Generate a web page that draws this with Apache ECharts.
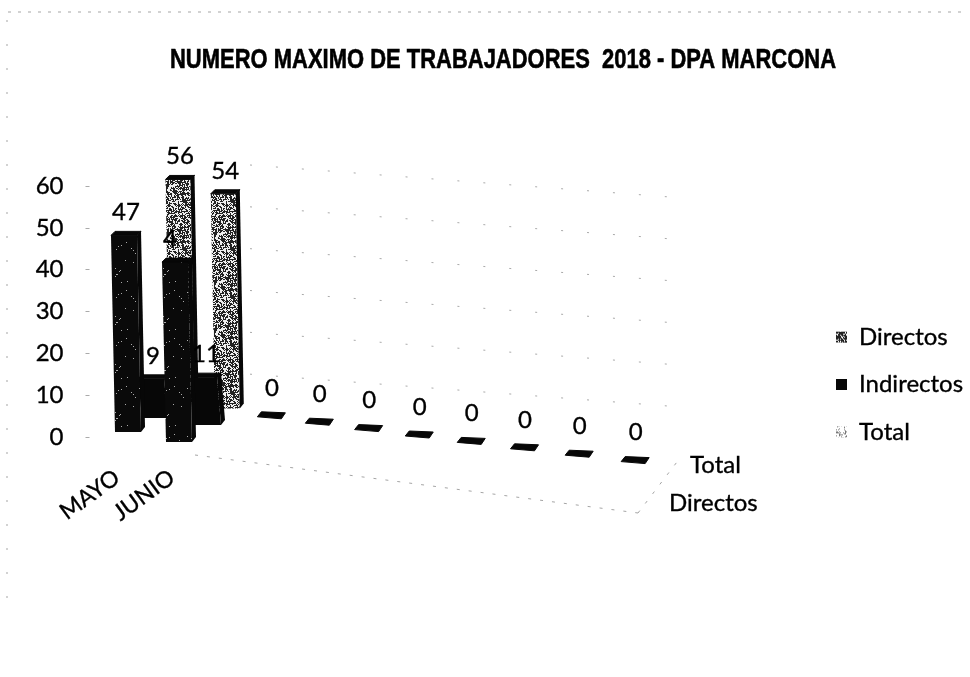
<!DOCTYPE html>
<html>
<head>
<meta charset="utf-8">
<style>html,body{margin:0;padding:0;background:#fff}#c{width:970px;height:677px}</style>
<script src="https://cdn.jsdelivr.net/npm/echarts@6/dist/echarts.min.js"></script>
</head>
<body>
<div id="c"></div>
<script>
var titleText = 'NUMERO MAXIMO DE TRABAJADORES  2018 - DPA MARCONA';
var categories = ['MAYO', 'JUNIO', '', '', '', '', '', '', '', ''];
var directos = [47, 43];
var indirectos = [9, 11];
var total = [56, 54, 0, 0, 0, 0, 0, 0, 0, 0];
var yTicks = [10, 20, 30, 40, 50, 60];
var depthLabels = ['Total', 'Directos'];

// fixed stipple textures (integer hash, no randomness)
function stipple(size, lightShare, dark, light) {
  var cv = document.createElement('canvas');
  cv.width = cv.height = size;
  var g = cv.getContext('2d');
  g.fillStyle = dark; g.fillRect(0, 0, size, size);
  g.fillStyle = light;
  var s = 12345;
  for (var y = 0; y < size; y++) for (var x = 0; x < size; x++) {
    s = (s * 1103515245 + 12345) & 0x7fffffff;
    if (((s >> 16) % 100) < lightShare) g.fillRect(x, y, 1, 1);
  }
  return { image: cv, repeat: 'repeat' };
}
var patTotal = stipple(48, 45, '#222222', '#eeeeee');
var patDirectos = stipple(48, 1, '#0a0a0a', '#aaaaaa');
var patLegDir = stipple(24, 25, '#222222', '#ffffff');
var patLegTot = stipple(24, 70, '#777777', '#ffffff');
var BLACK = '#070707';

// depth placement of each row of the 3D floor, relative to the axis position
var rows = {
  directos: { dx: function (c) { return 11 - 4 * c; }, dy: function (c) { return -5 + 10 * c; }, k: 1.0, w: 26 },
  indirectos: { dx: function (c) { return 38 - 2 * c; }, dy: function (c) { return -19 + 7 * c; }, k: 1.04, w: 26 },
  total: { dx: function (c) { return 65 - 10.4 * c + 0.67 * c * c; }, dy: function (c) { return -35 + 6.4 * c; }, k: 0.95, w: 25 }
};
var FONT = 'Lato';
var LABEL_FONT = '24px ' + FONT;
var TEXT_EDGE = 0.35;

function barRenderer(row, fill, clipLabels) {
  return function (params, api) {
    var c = api.value(0), v = api.value(1);
    var p0 = api.coord([c, 0]), pv = api.coord([c, v]);
    var h = (p0[1] - pv[1]) * row.k;
    var bx = p0[0] + row.dx(c), by = p0[1] + row.dy(c);
    var tx = bx - 4, ty = by - h;
    var w = row.w / 2, d = 4;
    var children = [];
    if (h > 0) {
      children.push(
        { type: 'polygon', shape: { points: [[bx - w, by], [bx + w, by], [tx + w, ty], [tx - w, ty]] }, style: { fill: fill } },
        { type: 'polygon', shape: { points: [[bx + w, by], [bx + w + d, by - 5], [tx + w + d, ty - 5], [tx + w, ty]] }, style: { fill: BLACK } },
        { type: 'polygon', shape: { points: [[tx - w, ty], [tx - w + d, ty - 4], [tx + w + d, ty - 4], [tx + w, ty]] }, style: { fill: BLACK, stroke: BLACK, lineWidth: 1 } }
      );
    } else {
      // a zero value is only the flat lid of the bar
      children.push({ type: 'polygon', shape: { points: [[tx - w, by + 2], [tx - w + 4, by - 3], [tx + w + 3, by - 2], [tx + w - 1, by + 4]] }, style: { fill: BLACK, stroke: BLACK, lineWidth: 1 } });
    }
    var labelY = h > 0 ? ty - 23 : by - 27;
    var label = { type: 'text', style: { text: String(v), x: tx + 2, y: labelY, align: 'center', verticalAlign: 'middle', font: LABEL_FONT, fill: '#000', stroke: '#000', lineWidth: TEXT_EDGE } };
    if (clipLabels && clipLabels[c] != null) label.clipPath = { type: 'rect', shape: { x: 0, y: 0, width: clipLabels[c], height: 677 } };
    children.push(label);
    return { type: 'group', children: children };
  };
}

function wallRenderer(params, api) {
  var v = api.value(0);
  var y = api.coord([0, v])[1];
  return { type: 'polyline', shape: { points: [[250, y - 21], [683, y + 12]] }, style: { fill: null, stroke: '#aaaaaa', lineWidth: 1, lineDash: [2, 24] } };
}

function line(pts, dash) {
  return { type: 'polyline', silent: true, shape: { points: pts }, style: { fill: null, stroke: '#a5a5a5', lineWidth: 1, lineDash: dash } };
}

function seriesData(arr) { return arr.map(function (v, i) { return [i, v]; }); }

// the title is set condensed: measure it and squeeze it to its printed width
var TITLE_FONT = 'bold 28px "Liberation Sans"';
var measure = document.createElement('canvas').getContext('2d');
measure.font = TITLE_FONT;
var titleScale = 666 / measure.measureText(titleText).width;

var chart = echarts.init(document.getElementById('c'), null, { renderer: 'canvas' });
chart.setOption({
  animation: false,
  backgroundColor: '#fff',
  legend: {
    orient: 'vertical', left: 831, top: 320, itemWidth: 11, itemHeight: 11, itemGap: 23,
    icon: 'rect',
    textStyle: { fontFamily: FONT, fontSize: 24, color: '#000', padding: [0, 0, 0, 7], textBorderColor: '#000', textBorderWidth: TEXT_EDGE },
    data: [
      { name: 'Directos', itemStyle: { color: patLegDir } },
      { name: 'Indirectos', itemStyle: { color: BLACK } },
      { name: 'Total', itemStyle: { color: patLegTot } }
    ]
  },
  grid: { left: 89.5, width: 550, top: 186, height: 251 },
  xAxis: {
    type: 'category', data: categories,
    axisLine: { show: false }, axisTick: { show: false },
    axisLabel: { interval: 0, rotate: 36, margin: 38, fontFamily: FONT, fontSize: 23, color: '#000', textBorderColor: '#000', textBorderWidth: TEXT_EDGE }
  },
  yAxis: {
    type: 'value', min: 0, max: 60, interval: 10,
    splitLine: { show: false }, axisLine: { show: false },
    axisTick: { show: true, length: 5, lineStyle: { color: '#aaa', type: 'dashed' } },
    axisLabel: { margin: 26, fontFamily: FONT, fontSize: 24, color: '#000', textBorderColor: '#000', textBorderWidth: TEXT_EDGE }
  },
  graphic: [
    line([[8, 12], [962, 12]], [3, 7]),
    line([[7, 20], [7, 620]], [2, 22]),
    line([[195, 455], [638, 513]], [3, 9]),
    line([[638, 513], [680, 458]], [3, 9]),
    { type: 'text', silent: true, x: 170, y: 60, scaleX: titleScale, style: { text: titleText, x: 0, y: 0, verticalAlign: 'middle', font: TITLE_FONT, fill: '#000', stroke: '#000', lineWidth: 0.6 } },
    { type: 'text', silent: true, style: { text: depthLabels[0], x: 690, y: 465, verticalAlign: 'middle', font: LABEL_FONT, fill: '#000', stroke: '#000', lineWidth: TEXT_EDGE } },
    { type: 'text', silent: true, style: { text: depthLabels[1], x: 669, y: 503, verticalAlign: 'middle', font: LABEL_FONT, fill: '#000', stroke: '#000', lineWidth: TEXT_EDGE } }
  ],
  series: [
    { type: 'custom', name: 'wall', z: 1, silent: true, coordinateSystem: 'cartesian2d', clip: false, data: yTicks.map(function (v) { return [v]; }), encode: { y: 0 }, renderItem: wallRenderer },
    { type: 'custom', name: 'Total', z: 2, coordinateSystem: 'cartesian2d', clip: false, itemStyle: { color: patTotal }, data: seriesData(total), encode: { x: 0, y: 1 }, renderItem: barRenderer(rows.total, patTotal) },
    { type: 'custom', name: 'Indirectos', z: 3, coordinateSystem: 'cartesian2d', clip: false, itemStyle: { color: BLACK }, data: seriesData(indirectos), encode: { x: 0, y: 1 }, renderItem: barRenderer(rows.indirectos, BLACK) },
    { type: 'custom', name: 'Directos', z: 4, coordinateSystem: 'cartesian2d', clip: false, itemStyle: { color: patDirectos }, data: seriesData(directos), encode: { x: 0, y: 1 }, renderItem: barRenderer(rows.directos, patDirectos, { 1: 176 }) }
  ]
});
</script>
</body>
</html>
